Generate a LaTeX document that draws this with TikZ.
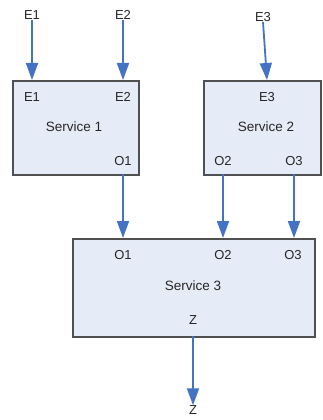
\documentclass[tikz,border=0pt]{standalone}
\usepackage{fontspec}
\setmainfont{Liberation Sans}
\usetikzlibrary{arrows.meta}
\definecolor{boxfill}{HTML}{E6ECF7}
\definecolor{boxline}{HTML}{505050}
\definecolor{flow}{HTML}{4472C4}
\definecolor{txt}{HTML}{262626}
\tikzset{
  service/.style={draw=boxline, line width=1.8pt, fill=boxfill, inner sep=0pt, anchor=north west},
  port/.style={font=\fontsize{13}{15}\selectfont, text=txt, inner sep=0pt},
  title/.style={font=\fontsize{13.5}{15}\selectfont, text=txt, inner sep=0pt},
  flowarrow/.style={draw=flow, line width=1.8pt, -{Triangle[width=12pt,length=17pt]}},
}
\begin{document}
\begin{tikzpicture}[x=1pt,y=-1pt]
\useasboundingbox (0,0) rectangle (322,420);
% service boxes
\node[service, minimum width=126pt, minimum height=94pt] (s1) at (12,80) {};
\node[service, minimum width=117pt, minimum height=94pt] (s2) at (203,80) {};
\node[service, minimum width=242pt, minimum height=98pt] (s3) at (72,238) {};
% titles
\node[title] (t1) at (74,127) {Service 1};
\node[title] (t2) at (266,127) {Service 2};
\node[title] (t3) at (193,286) {Service 3};
% external inputs
\node[port] (e1) at (32,15) {E1};
\node[port] (e2) at (123,15) {E2};
\node[port] (e3) at (263,17) {E3};
% ports of service 1
\node[port] (s1e1) at (32,97) {E1};
\node[port] (s1e2) at (123,97) {E2};
\node[port] (s1o1) at (123,161) {O1};
% ports of service 2
\node[port] (s2e3) at (267,97) {E3};
\node[port] (s2o2) at (223,161) {O2};
\node[port] (s2o3) at (294,161) {O3};
% ports of service 3
\node[port] (s3o1) at (123,255) {O1};
\node[port] (s3o2) at (223,255) {O2};
\node[port] (s3o3) at (293,255) {O3};
\node[port] (s3z) at (193,320) {Z};
% output
\node[port] (z) at (193,410) {Z};
% border points
\coordinate (in1) at (32,80);
\coordinate (in2) at (123,80);
\coordinate (in3) at (267,80);
\coordinate (out1) at (123,174);
\coordinate (out2) at (223,174);
\coordinate (out3) at (294,174);
\coordinate (rx1) at (123,238);
\coordinate (rx2) at (223,238);
\coordinate (rx3) at (294,238);
\coordinate (outz) at (193,336);
% flows
\draw[flowarrow] (e1.south) -- (in1);
\draw[flowarrow] (e2.south) -- (in2);
\draw[flowarrow] (e3.south) -- (in3);
\draw[flowarrow] (out1) -- (rx1);
\draw[flowarrow] (out2) -- (rx2);
\draw[flowarrow] (out3) -- (rx3);
\draw[flowarrow] (outz) -- (z.north);
\end{tikzpicture}
\end{document}
